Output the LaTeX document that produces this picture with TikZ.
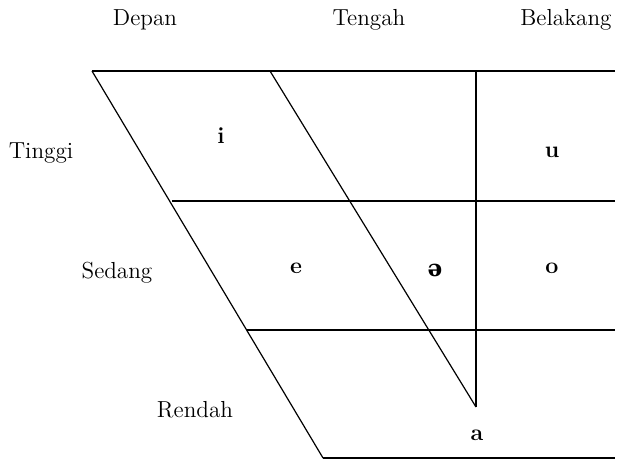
\documentclass[tikz,border=0pt]{standalone}
\usepackage{fontspec}
\usepackage{tikz}
\newfontfamily\ipafont{DejaVu Serif}

\tikzset{
    grid line/.style={line width=0.6pt},
    axis label/.style={font=\fontsize{11.6}{14}\selectfont},
    vowel/.style={font=\fontsize{11.6}{14}\selectfont\bfseries}
}

\begin{document}
\begin{tikzpicture}[x=0.5pt, y=-0.5pt]
            \useasboundingbox (0, 0) rectangle (621, 459);

            % corners of the chart
            \coordinate (tl) at (92, 71);
            \coordinate (tm) at (270, 71);
            \coordinate (tv) at (476, 71);
            \coordinate (tr) at (615, 71);
            \coordinate (ml) at (172, 201);
            \coordinate (mr) at (615, 201);
            \coordinate (ll) at (247, 330);
            \coordinate (lr) at (615, 330);
            \coordinate (bl) at (323, 458);
            \coordinate (br) at (615, 458);
            \coordinate (bv) at (476, 407);

            \draw[grid line] (tl) -- (tr);
            \draw[grid line] (ml) -- (mr);
            \draw[grid line] (ll) -- (lr);
            \draw[grid line] (bl) -- (br);
            \draw[grid line] (tl) -- (bl);
            \draw[grid line] (tm) -- (bv);
            \draw[grid line] (tv) -- (bv);

            \node[axis label] (depan) at (145, 20) {Depan};
            \node[axis label] (tengah) at (369, 20) {Tengah};
            \node[axis label] (belakang) at (566, 20) {Belakang};

            \node[axis label] (tinggi) at (41, 153) {Tinggi};
            \node[axis label] (sedang) at (117, 273) {Sedang};
            \node[axis label] (rendah) at (195, 410) {Rendah};

            \node[vowel] (i) at (221, 136) {i};
            \node[vowel] (u) at (552, 152) {u};
            \node[vowel] (e) at (296, 268) {e};
            \node[vowel] (schwa) at (435, 270) {\ipafont ə};
            \node[vowel] (o) at (552, 268) {o};
            \node[vowel] (a) at (477, 435) {a};
          \end{tikzpicture}
\end{document}
